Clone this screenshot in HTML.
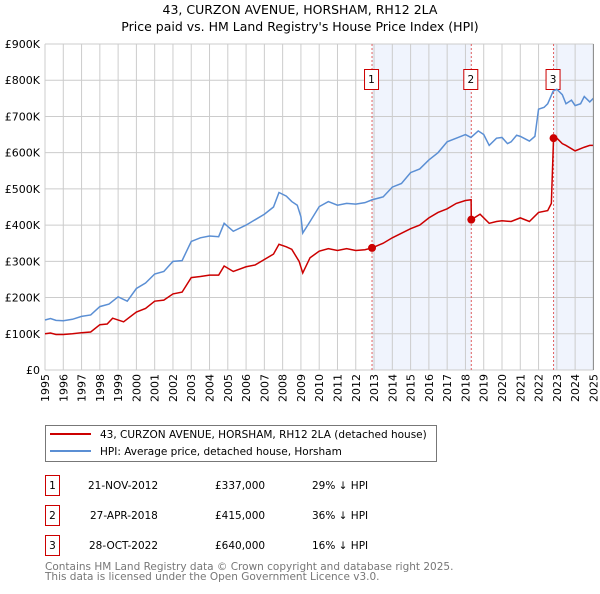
<!DOCTYPE html>
<html><head><meta charset="utf-8">
<style>
body{margin:0;background:#fff;width:600px;height:590px;overflow:hidden;font-family:"DejaVu Sans","Liberation Sans",sans-serif;}
svg text{font-family:"DejaVu Sans","Liberation Sans",sans-serif;}
</style></head>
<body>
<svg id="chart" width="600" height="590" viewBox="0 0 600 590" xmlns="http://www.w3.org/2000/svg">
<text x="300" y="14" font-size="12.5" text-anchor="middle" fill="#000">43, CURZON AVENUE, HORSHAM, RH12 2LA</text>
<text x="300" y="31" font-size="12.5" text-anchor="middle" fill="#000">Price paid vs. HM Land Registry's House Price Index (HPI)</text>
<g id="shade"></g>
<g id="grid"></g>
<g id="yaxis"></g>
<g id="xaxis"></g>
<g id="vlines"></g>
<g id="series"></g>

<g>
<rect x="45.5" y="425.5" width="391" height="36" fill="#fff" stroke="#777" stroke-width="1"/>
<line x1="50" y1="434" x2="91" y2="434" stroke="#cc0000" stroke-width="2"/>
<text x="100" y="438" font-size="10.5" fill="#000">43, CURZON AVENUE, HORSHAM, RH12 2LA (detached house)</text>
<line x1="50" y1="451" x2="91" y2="451" stroke="#5b8fd4" stroke-width="2"/>
<text x="100" y="455" font-size="10.5" fill="#000">HPI: Average price, detached house, Horsham</text>
</g>
<g font-size="10.5" fill="#000">
<g>
<rect x="45.5" y="475.5" width="14" height="20" fill="#fff" stroke="#cc0000"/>
<text x="52.5" y="489" text-anchor="middle">1</text>
<text x="88" y="489">21-NOV-2012</text><text x="215" y="489">£337,000</text><text x="312" y="489">29% ↓ HPI</text>
</g>
<g>
<rect x="45.5" y="505.5" width="14" height="20" fill="#fff" stroke="#cc0000"/>
<text x="52.5" y="519" text-anchor="middle">2</text>
<text x="90" y="519">27-APR-2018</text><text x="215" y="519">£415,000</text><text x="312" y="519">36% ↓ HPI</text>
</g>
<g>
<rect x="45.5" y="535.5" width="14" height="20" fill="#fff" stroke="#cc0000"/>
<text x="52.5" y="549" text-anchor="middle">3</text>
<text x="89" y="549">28-OCT-2022</text><text x="215" y="549">£640,000</text><text x="312" y="549">16% ↓ HPI</text>
</g>
</g>
<text x="45" y="570" font-size="10.5" fill="#777">Contains HM Land Registry data © Crown copyright and database right 2025.</text>
<text x="45" y="580" font-size="10.5" fill="#777">This data is licensed under the Open Government Licence v3.0.</text>
</svg>
<script>
const yTicks=[0,100,200,300,400,500,600,700,800,900];
const yTickLabels=["£0","£100K","£200K","£300K","£400K","£500K","£600K","£700K","£800K","£900K"];
const xYears=[1995,1996,1997,1998,1999,2000,2001,2002,2003,2004,2005,2006,2007,2008,2009,2010,2011,2012,2013,2014,2015,2016,2017,2018,2019,2020,2021,2022,2023,2024,2025];
const hpiT=[1995,1995.3,1995.6,1996,1996.5,1997,1997.5,1998,1998.5,1999,1999.5,2000,2000.5,2001,2001.5,2002,2002.5,2003,2003.5,2004,2004.5,2004.8,2005.3,2006,2006.5,2007,2007.5,2007.8,2008.2,2008.5,2008.8,2009,2009.1,2009.5,2010,2010.5,2011,2011.5,2012,2012.5,2012.9,2013.5,2014,2014.5,2015,2015.5,2016,2016.5,2017,2017.5,2018,2018.3,2018.7,2019,2019.3,2019.7,2020,2020.3,2020.5,2020.8,2021,2021.5,2021.8,2022,2022.3,2022.5,2022.8,2023,2023.3,2023.5,2023.8,2024,2024.3,2024.5,2024.8,2025];
const hpiV=[138,142,137,136,140,148,152,175,182,202,190,225,240,265,272,300,302,355,365,370,368,405,383,400,415,430,450,490,480,465,455,423,378,410,451,465,455,460,458,462,470,478,505,515,545,555,580,600,630,640,650,642,660,650,620,640,642,625,630,648,645,632,645,720,725,735,770,775,760,735,745,730,735,755,740,750];
const ppT=[1995,1995.3,1995.6,1996,1996.5,1997,1997.5,1998,1998.4,1998.7,1999.3,2000,2000.5,2001,2001.5,2002,2002.5,2003,2003.5,2004,2004.5,2004.8,2005.3,2006,2006.5,2007,2007.5,2007.8,2008.2,2008.5,2008.9,2009.1,2009.5,2010,2010.5,2011,2011.5,2012,2012.5,2012.89,2013.5,2014,2015,2015.5,2016,2016.5,2017,2017.5,2018,2018.31,2018.32,2018.8,2019.3,2019.7,2020,2020.5,2021,2021.5,2022,2022.5,2022.7,2022.82,2023,2023.3,2023.5,2024,2024.5,2024.8,2025];
const ppV=[100,102,98,98,100,103,105,125,127,143,133,160,170,190,193,210,215,255,258,262,262,287,272,285,290,305,320,347,340,333,300,268,310,328,335,330,335,330,332,337,350,365,390,400,420,435,445,460,468,470,415,430,405,410,412,410,420,410,435,440,460,640,640,625,620,605,615,620,620];
const saleT=[2012.89,2018.32,2022.82];
const saleV=[337,415,640];
const saleLabels=["1","2","3"];

const NS="http://www.w3.org/2000/svg";
const X0=45,X1=593.4,Y0=370,Y1=44;
const xs=t=>X0+(t-1995)/30*(X1-X0);
const ys=v=>Y0-v/900*(Y0-Y1);
function mk(tag,attrs,parent){const e=document.createElementNS(NS,tag);for(const k in attrs)e.setAttribute(k,attrs[k]);parent.appendChild(e);return e;}
const shade=document.getElementById('shade');
let r1=mk('rect',{x:xs(saleT[0]),y:Y1,width:xs(saleT[1])-xs(saleT[0]),height:Y0-Y1,fill:'#f0f4fd'},shade);


let r2=mk('rect',{x:xs(saleT[2]),y:Y1,width:X1-xs(saleT[2]),height:Y0-Y1,fill:'#f0f4fd'},shade);


const grid=document.getElementById('grid');
yTicks.forEach(v=>{mk('line',{x1:X0,x2:X1,y1:ys(v),y2:ys(v),stroke:'#ccc','stroke-width':1},grid);});
xYears.forEach(t=>{mk('line',{x1:xs(t),x2:xs(t),y1:Y1,y2:Y0,stroke:'#ccc','stroke-width':1},grid);});
const ya=document.getElementById('yaxis');
yTicks.forEach((v,i)=>{let t=mk('text',{x:40,y:ys(v)+4,'font-size':11,'text-anchor':'end',fill:'#000'},ya);t.textContent=yTickLabels[i];

});
const xa=document.getElementById('xaxis');
xYears.forEach(y=>{const x=xs(y);let t=mk('text',{x:0,y:0,'font-size':11,'text-anchor':'end',fill:'#000',transform:`translate(${x+4},374) rotate(-90)`},xa);t.textContent=y;

});
const vl=document.getElementById('vlines');
saleT.forEach((t,i)=>{const x=xs(t);mk('line',{x1:x,x2:x,y1:Y1,y2:Y0,stroke:'#e06060','stroke-width':1,'stroke-dasharray':'2,2'},vl);
let b=mk('rect',{x:x-7.5,y:69.5,width:14,height:20,fill:'#fff',stroke:'#cc0000'},vl);


let t2=mk('text',{x:x-0.5,y:83,'font-size':10.5,'text-anchor':'middle',fill:'#000'},vl);t2.textContent=saleLabels[i];});
const s=document.getElementById('series');
let hp=mk('polyline',{points:hpiT.map((t,i)=>xs(t)+','+ys(hpiV[i])).join(' '),fill:'none',stroke:'#5b8fd4','stroke-width':1.5},s);


let pp=mk('polyline',{points:ppT.map((t,i)=>xs(t)+','+ys(ppV[i])).join(' '),fill:'none',stroke:'#cc0000','stroke-width':1.5},s);


saleT.forEach((t,i)=>{let c=mk('circle',{cx:xs(t),cy:ys(saleV[i]),r:4,fill:'#cc0000'},s);

});
mk('line',{x1:X1,x2:X1,y1:Y1,y2:Y0,stroke:'#888','stroke-width':1},s);
</script>
</body></html>
